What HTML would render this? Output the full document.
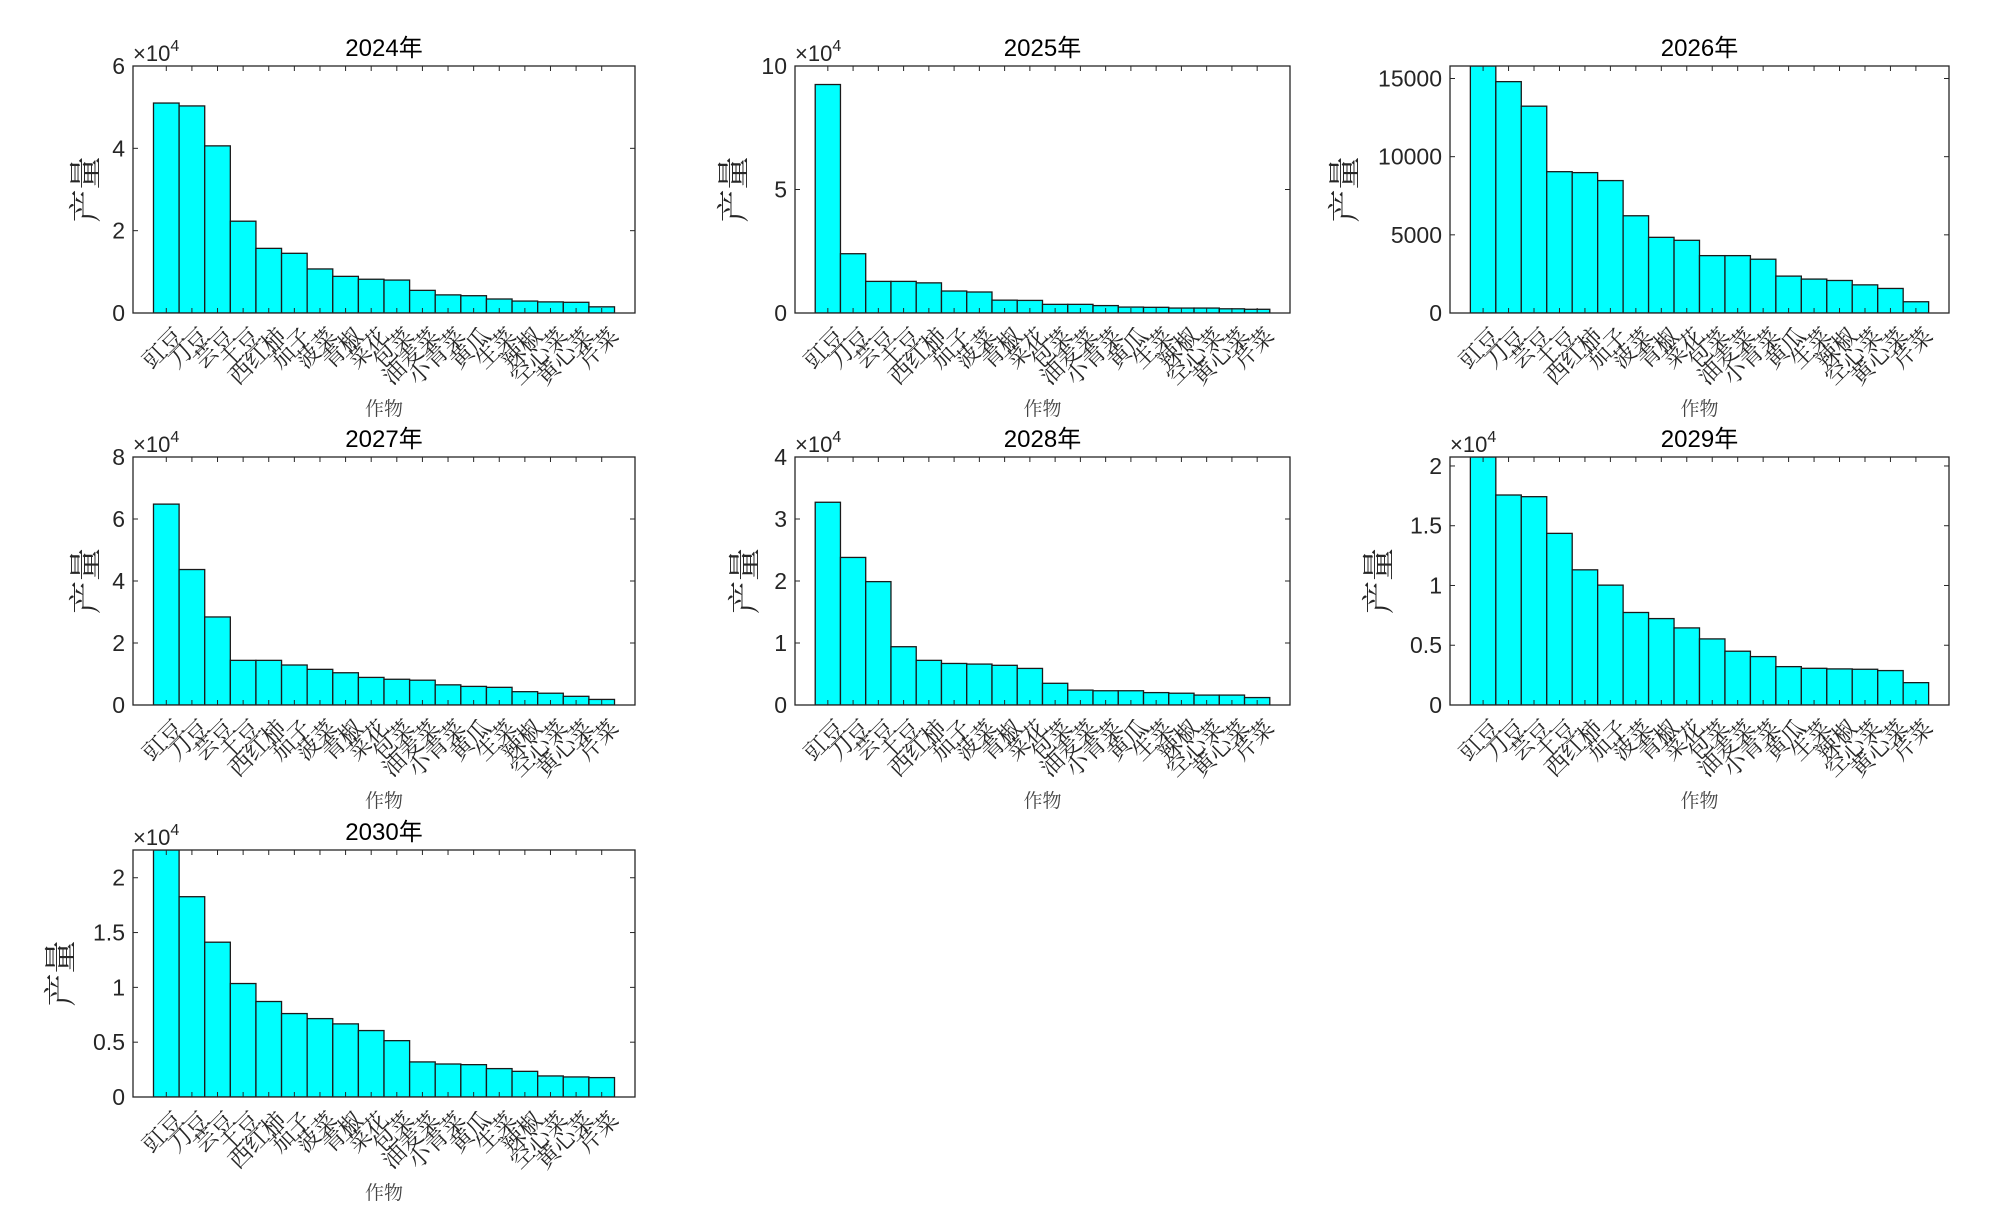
<!DOCTYPE html>
<html><head><meta charset="utf-8"><style>
html,body{margin:0;padding:0;background:#fff;}
svg{display:block;}
</style></head>
<body>
<svg id="fig" width="2000" height="1211" viewBox="0 0 2000 1211" xmlns="http://www.w3.org/2000/svg"></svg>
<script>
const categories = ["豇豆","刀豆","芸豆","土豆","西红柿","茄子","菠菜","青椒","菜花","包菜","油麦菜","小青菜","黄瓜","生菜","辣椒","空心菜","黄心菜","芹菜"];
const years = ["2024年","2025年","2026年","2027年","2028年","2029年","2030年"];
const v2024 = [5.10,5.03,4.06,2.23,1.57,1.45,1.07,0.89,0.82,0.80,0.55,0.44,0.42,0.34,0.29,0.27,0.26,0.15];
const v2025 = [9.25,2.40,1.28,1.28,1.22,0.89,0.85,0.52,0.51,0.35,0.35,0.30,0.24,0.23,0.20,0.20,0.17,0.15];
const v2026 = [16500,14800,13230,9040,8980,8470,6220,4840,4650,3670,3670,3440,2360,2170,2080,1800,1570,720];
const v2027 = [6.48,4.37,2.84,1.44,1.44,1.29,1.15,1.04,0.89,0.83,0.80,0.65,0.60,0.57,0.43,0.38,0.28,0.18];
const v2028 = [3.27,2.38,1.99,0.94,0.72,0.67,0.66,0.64,0.59,0.35,0.24,0.23,0.23,0.20,0.19,0.16,0.16,0.12];
const v2029 = [2.20,1.757,1.743,1.436,1.131,1.003,0.774,0.723,0.645,0.553,0.450,0.405,0.321,0.307,0.302,0.299,0.288,0.187];
const v2030 = [2.40,1.827,1.412,1.035,0.871,0.761,0.715,0.667,0.606,0.514,0.320,0.301,0.295,0.259,0.234,0.192,0.183,0.177];
const yMaxes = [6,10,15800,8,4,2.075,2.253];
const yTicks2024 = [0,2,4,6];
const yTicks2025 = [0,5,10];
const yTicks2026 = [0,5000,10000,15000];
const yTicks2027 = [0,2,4,6,8];
const yTicks2028 = [0,1,2,3,4];
const yTicks2029 = [0,0.5,1,1.5,2];
const yTicks2030 = [0,0.5,1,1.5,2];
const expFlags = [true,true,false,true,true,true,true];

const series = [v2024,v2025,v2026,v2027,v2028,v2029,v2030];
const tickSets = [yTicks2024,yTicks2025,yTicks2026,yTicks2027,yTicks2028,yTicks2029,yTicks2030];
const boxes = [
  {l:133,r:635,t:66,b:313,yl:46},
  {l:795,r:1290,t:66,b:313,yl:60},
  {l:1450,r:1949,t:66,b:313,yl:104},
  {l:133,r:635,t:457,b:705,yl:46},
  {l:795,r:1290,t:457,b:705,yl:49},
  {l:1450,r:1949,t:457,b:705,yl:70},
  {l:133,r:635,t:850,b:1097,yl:71}
];
const NS = "http://www.w3.org/2000/svg";
const fig = document.getElementById('fig');
function mk(tag, attrs, parent){
  const e = document.createElementNS(NS, tag);
  for (const k in attrs) e.setAttribute(k, attrs[k]);
  (parent||fig).appendChild(e);
  return e;
}
const SANS = '"Liberation Sans","Noto Sans CJK SC",sans-serif';
const SERIF = '"Liberation Serif","Noto Serif CJK SC",serif';

series.forEach((vals, i) => {
  const bx = boxes[i];
  const g = mk('g', {});
  
  
  const xmin = -0.3, xmax = categories.length + 1.3;
  const xS = x => bx.l + (x - xmin) / (xmax - xmin) * (bx.r - bx.l);
  const yS = y => bx.b - Math.min(y, yMaxes[i]) / yMaxes[i] * (bx.b - bx.t);
  const clip = mk('clipPath', {id: 'c' + i}, g);
  mk('rect', {x: bx.l, y: bx.t, width: bx.r - bx.l, height: bx.b - bx.t}, clip);
  const bars = mk('g', {'clip-path': 'url(#c' + i + ')'}, g);
  vals.forEach((v, j) => {
    const x0 = xS(j + 1 - 0.5), x1 = xS(j + 1 + 0.5);
    const r = mk('rect', {x: x0, y: yS(v), width: x1 - x0, height: bx.b - yS(v), fill: '#00ffff', stroke: '#1a1a1a', 'stroke-width': 1.3}, bars);
    
    
  });
  categories.forEach((c, j) => {
    const cx = xS(j + 1);
    mk('line', {x1: cx, x2: cx, y1: bx.t, y2: bx.t + 5, stroke: '#262626', 'stroke-width': 1}, g);
    mk('line', {x1: cx, x2: cx, y1: bx.b, y2: bx.b - 5, stroke: '#262626', 'stroke-width': 1}, g);
    const t = mk('text', {x: cx + 7, y: bx.b + 13, 'text-anchor': 'end', 'font-size': 23, 'font-family': SERIF, fill: '#262626', transform: 'rotate(-45 ' + (cx + 7) + ' ' + (bx.b + 13) + ')', 'dominant-baseline': 'hanging'}, g);
    t.textContent = c;
    
    
  });
  tickSets[i].forEach(tv => {
    const y = yS(tv);
    mk('line', {x1: bx.l, x2: bx.l + 5, y1: y, y2: y, stroke: '#262626', 'stroke-width': 1}, g);
    mk('line', {x1: bx.r, x2: bx.r - 5, y1: y, y2: y, stroke: '#262626', 'stroke-width': 1}, g);
    const t = mk('text', {x: bx.l - 8, y: y + 8, 'text-anchor': 'end', 'font-size': 23, 'font-family': SANS, fill: '#262626'}, g);
    t.textContent = String(tv);
    
    
  });
  const frame = mk('rect', {x: bx.l, y: bx.t, width: bx.r - bx.l, height: bx.b - bx.t, fill: 'none', stroke: '#262626', 'stroke-width': 1.3}, g);
  
  
  const ti = mk('text', {x: (bx.l + bx.r) / 2, y: bx.t - 10, 'text-anchor': 'middle', 'font-size': 24, 'font-family': SANS, fill: '#000'}, g);
  ti.textContent = years[i];
  
  
  if (expFlags[i]) {
    const ex = mk('text', {x: bx.l, y: bx.t - 5, 'font-size': 22, 'font-family': SANS, fill: '#262626'}, g);
    ex.innerHTML = '×10<tspan dy="-10" font-size="16">4</tspan>';
    
    
  }
  const ylx = bx.l - bx.yl, yly = (bx.t + bx.b) / 2;
  const yl = mk('text', {x: ylx, y: yly, 'text-anchor': 'middle', 'dominant-baseline': 'central', 'font-size': 33, 'font-family': SERIF, fill: '#262626', transform: 'rotate(-90 ' + ylx + ' ' + yly + ')'}, g);
  yl.textContent = '产量';
  
  
  const xl = mk('text', {x: (bx.l + bx.r) / 2, y: bx.b + 102, 'text-anchor': 'middle', 'font-size': 19, 'font-family': SERIF, fill: '#444'}, g);
  xl.textContent = '作物';
  
  
});
</script>
</body></html>
